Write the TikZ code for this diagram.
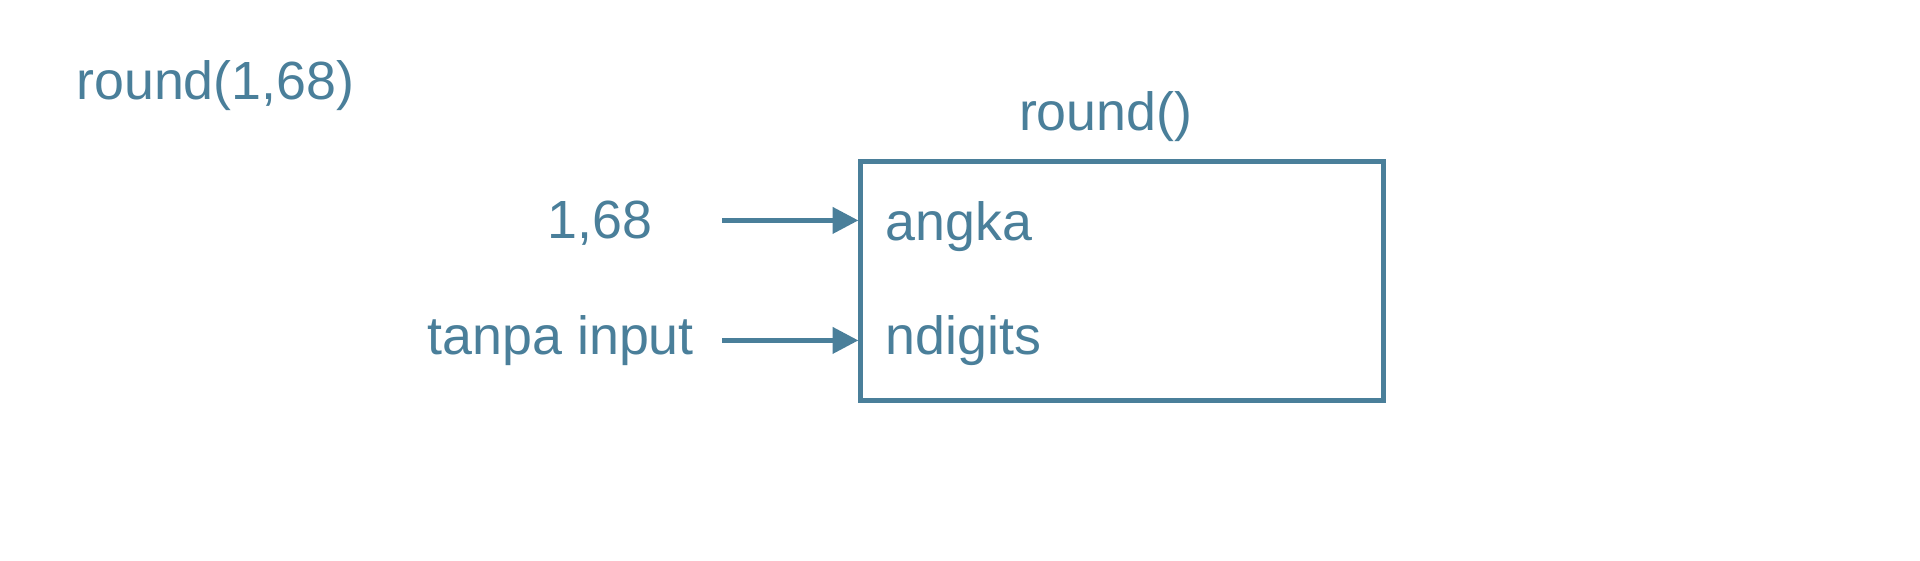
\documentclass[tikz,border=0pt]{standalone}
\usepackage{fontspec}
\setmainfont{Liberation Sans}
\usetikzlibrary{arrows.meta}
\definecolor{tc}{HTML}{4A7F9A}
\begin{document}
\begin{tikzpicture}[x=0.02cm,y=-0.02cm,
  lbl/.style={text=tc,font=\fontsize{25}{28}\selectfont,inner sep=0pt},
  arr/.style={draw=tc,line width=2.2pt,-{Triangle[length=12pt,width=12pt]}}]
\useasboundingbox[fill=white] (0,0) rectangle (1568,458);
\node[lbl,anchor=west] (t) at (62,70) {round(1,68)};
\node[draw=tc,line width=2.4pt,minimum width=427*0.02cm,minimum height=195*0.02cm,inner sep=0pt] (box) at (916.5,229.5) {};
\node[lbl] (title) at (903,95) {round()};
\node[lbl] (v1) at (490,182) {1,68};
\node[lbl,anchor=east] (v2) at (567,278) {tanpa input};
\node[lbl,anchor=west] (p1) at (723,185) {angka};
\node[lbl,anchor=west] (p2) at (723,278) {ndigits};
\coordinate (s1) at (590,180); \coordinate (e1) at (701,180);
\coordinate (s2) at (590,278); \coordinate (e2) at (701,278);
\draw[arr] (s1) -- (e1);
\draw[arr] (s2) -- (e2);
\end{tikzpicture}
\end{document}
